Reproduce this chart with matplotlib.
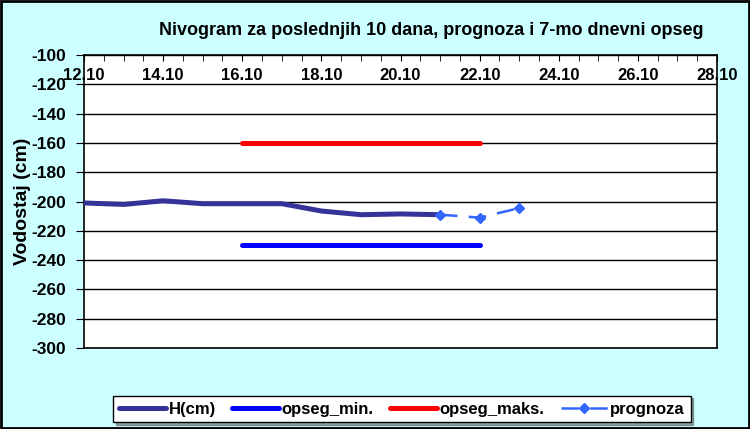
import numpy as np
import matplotlib
matplotlib.use("Agg")
from matplotlib import pyplot as plt
from matplotlib.patches import Rectangle

plt.rcParams['font.family'] = ['Liberation Sans', 'DejaVu Sans']
plt.rcParams['font.weight'] = 'bold'

# day of month (October)
h_days = [12, 13, 14, 15, 16, 17, 18, 19, 20, 21]
h_cm = [-201, -202, -199.5, -201.5, -201.5, -201.5, -206.5, -209, -208.5, -209]

prog_days = [21, 22, 23]
prog_cm = [-209, -211, -204.5]

range_days = [16, 22]
opseg_min = [-230, -230]
opseg_maks = [-160, -160]

x_ticks = [12, 14, 16, 18, 20, 22, 24, 26, 28]
x_labels = ['%d.10' % d for d in x_ticks]
y_ticks = list(range(-300, -99, 20))

fig = plt.figure(figsize=(7.5, 4.29), dpi=100, facecolor='#CCFFFF')
ax = fig.add_axes([0.112, 0.1888, 0.844, 0.683])

ax.plot(h_days, h_cm, color='#333399', lw=3.6, solid_joinstyle='round',
        solid_capstyle='round', label='H(cm)', zorder=4)
ax.plot(range_days, opseg_min, color='#0000FF', lw=3.6, solid_capstyle='round',
        label='opseg_min.', zorder=3)
ax.plot(range_days, opseg_maks, color='#FF0000', lw=3.6, solid_capstyle='round',
        label='opseg_maks.', zorder=3)
ax.plot(prog_days, prog_cm, color='#3366FF', lw=1.8, ls=(0, (7, 4.5)),
        marker='D', ms=5.5, label='prognoza', zorder=5)

ax.set_xlim(12, 28)
ax.set_ylim(-300, -100)
ax.set_yticks(y_ticks)
ax.set_yticklabels([str(v) for v in y_ticks], fontsize=12.5, fontweight='bold')
ax.set_xticks(x_ticks)
ax.set_xticklabels(x_labels, fontsize=12, fontweight='bold')
ax.set_xticks(np.arange(12, 28.01, 0.5), minor=True)

ax.tick_params(axis='x', which='both', top=True, bottom=False, labeltop=True,
               labelbottom=False, direction='in', length=4, pad=-20)
ax.tick_params(axis='y', direction='out', length=6, pad=7, color='black')
ax.grid(axis='y', color='black', lw=1)
ax.set_axisbelow(True)
for s in ax.spines.values():
    s.set_color('black')
    s.set_linewidth(1.2)

ax.set_ylabel('Vodostaj (cm)', fontsize=14, fontweight='bold', labelpad=0)

fig.text(0.575, 0.93, 'Nivogram za poslednjih 10 dana, prognoza i 7-mo dnevni opseg',
         ha='center', va='center', fontsize=13, fontweight='bold')

leg = fig.legend(loc='center', bbox_to_anchor=(0.536, 0.0466), ncol=4,
                 fontsize=12, frameon=True, fancybox=False, shadow=True,
                 handlelength=2.8, columnspacing=1.0, handletextpad=0.15,
                 borderpad=0.35)
leg.get_frame().set_edgecolor('black')
leg.get_frame().set_linewidth(1)

fig.patches.append(Rectangle((0.001, 0.002), 0.997, 0.996, transform=fig.transFigure,
                             fill=False, edgecolor='black', lw=2))

fig.savefig('out.png', dpi=100, facecolor=fig.get_facecolor())
